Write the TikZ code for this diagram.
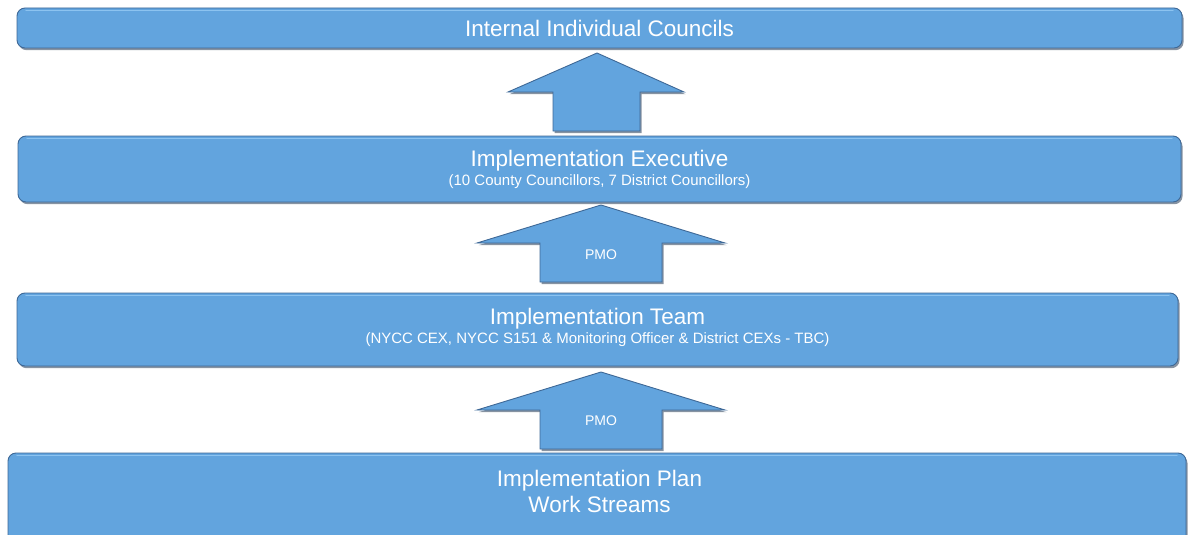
\documentclass[tikz,border=0pt]{standalone}
\usepackage{fontspec}
\setmainfont{Liberation Sans}
\usetikzlibrary{shadows}
\definecolor{boxblue}{RGB}{98,164,222}
\definecolor{edgeblue}{RGB}{62,104,150}
\definecolor{shadowblue}{RGB}{55,75,100}
\definecolor{glintblue}{RGB}{140,195,240}
\tikzset{
  panel/.style={fill=boxblue, draw=edgeblue, line width=0.9pt, rounded corners=8pt,
    drop shadow={shadow xshift=1.5pt, shadow yshift=-2.2pt, fill=shadowblue, opacity=0.6}},
  glint/.style={draw=glintblue, line width=1.2pt, line cap=round},
  uparrow/.style={fill=boxblue, draw=edgeblue, line width=0.9pt, line join=miter,
    drop shadow={shadow xshift=1.5pt, shadow yshift=-2.2pt, fill=shadowblue, opacity=0.6}},
  big/.style={text=white, font=\fontsize{22.5}{26}\selectfont, inner sep=0pt, anchor=base},
  small/.style={text=white, font=\fontsize{15}{18}\selectfont, inner sep=0pt, anchor=base},
  label/.style={text=white, font=\fontsize{14}{17}\selectfont, inner sep=0pt, anchor=base}
}
\begin{document}
\begin{tikzpicture}[x=1pt,y=-1pt]
\useasboundingbox (0,0) rectangle (1188,535);
\clip (0,0) rectangle (1188,535);

% level boxes
\path[panel] (17,8) rectangle (1182,48);
\draw[glint] (26,10.5) -- (1173,10.5);
\node[big] (councils) at (599.5,37) {Internal Individual Councils};

\path[panel] (18,136) rectangle (1181,202);
\draw[glint] (27,138.5) -- (1172,138.5);
\node[big] (exec) at (599.5,166.5) {Implementation Executive};
\node[small] (execsub) at (599.5,185.5) {(10 County Councillors, 7 District Councillors)};

\path[panel] (17,293) rectangle (1178,366);
\draw[glint] (26,295.5) -- (1169,295.5);
\node[big] (team) at (597.5,324.5) {Implementation Team};
\node[small] (teamsub) at (597.5,343) {(NYCC CEX, NYCC S151 \& Monitoring Officer \& District CEXs - TBC)};

\path[panel] (8,453) rectangle (1186,560);
\draw[glint] (17,455.5) -- (1177,455.5);
\node[big] (plan) at (599.5,486.5) {Implementation Plan};
\node[big] (streams) at (599.5,512.5) {Work Streams};

% upward block arrows between levels
\path[uparrow] (553,131) -- (553,92) -- (508,92) -- (597,53) -- (684,92) -- (640,92) -- (640,131) -- cycle;

\path[uparrow] (540,282) -- (540,243) -- (477,243) -- (601,205) -- (725,243) -- (662,243) -- (662,282) -- cycle;
\node[label] (pmo1) at (601,259) {PMO};

\path[uparrow] (540,449) -- (540,410) -- (477,410) -- (601,372) -- (725,410) -- (662,410) -- (662,449) -- cycle;
\node[label] (pmo2) at (601,425.5) {PMO};
\end{tikzpicture}
\end{document}
